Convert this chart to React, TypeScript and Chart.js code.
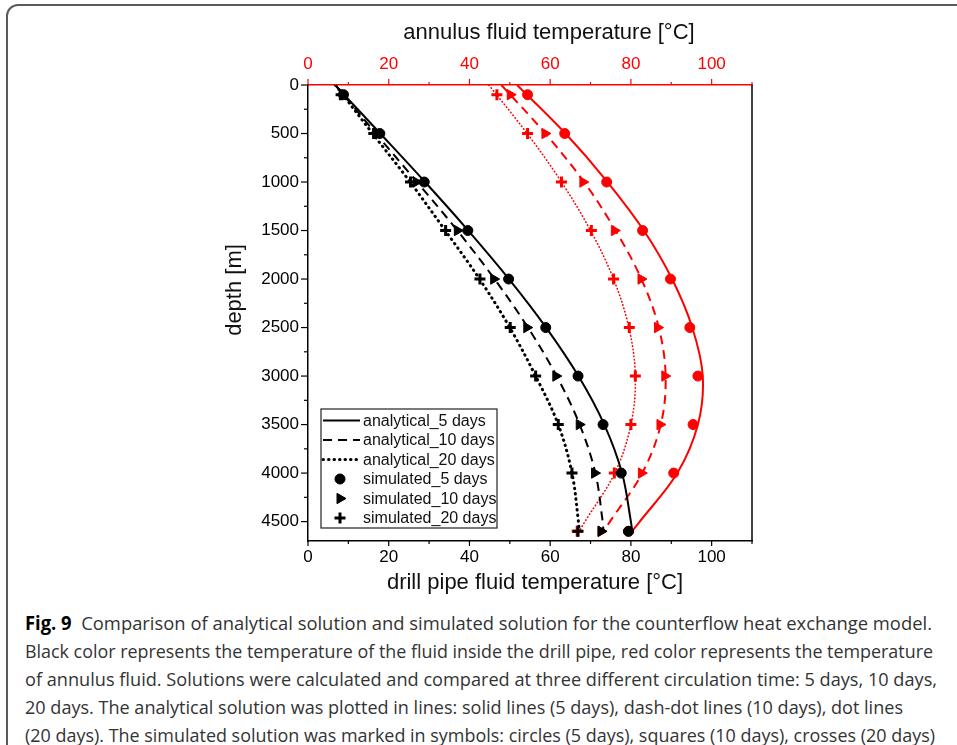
import React, { useEffect, useLayoutEffect, useRef } from "react";
import { Chart, registerables } from "chart.js";
import { drawPoint } from "chart.js/helpers";

Chart.register(...registerables);

// ---------- data ----------
const lineDepths = [0, 500, 1000, 1500, 2000, 2500, 3000, 3500, 4000, 4500, 4600];
const simDepths = [100, 500, 1000, 1500, 2000, 2500, 3000, 3500, 4000, 4600];

// analytical, drill pipe (black)
const pipeLine5 = [6.7, 17.9, 29.0, 39.7, 49.8, 59.0, 67.0, 73.4, 77.8, 80.0, 80.3];
const pipeLine10 = [6.8, 16.8, 27.0, 37.0, 46.2, 54.5, 61.6, 67.3, 71.2, 73.0, 73.2];
const pipeLine20 = [6.8, 16.0, 25.3, 34.0, 42.5, 50.0, 56.4, 62.0, 65.4, 67.0, 67.2];
// analytical, annulus (red)
const annLine5 = [51.8, 63.8, 74.2, 83.2, 90.2, 95.2, 97.8, 96.6, 91.5, 82.2, 80.3];
const annLine10 = [47.9, 58.8, 68.4, 76.2, 82.6, 86.9, 88.6, 87.4, 82.8, 74.8, 73.2];
const annLine20 = [44.8, 54.3, 62.8, 70.0, 75.7, 79.5, 81.1, 80.0, 76.0, 68.6, 67.2];

// simulated, drill pipe (black)
const pipeSim5 = [8.8, 17.8, 28.8, 39.6, 49.7, 58.9, 66.9, 73.1, 77.6, 79.4];
const pipeSim10 = [8.5, 16.8, 26.8, 37.0, 46.0, 54.2, 61.4, 67.2, 71.0, 72.6];
const pipeSim20 = [8.2, 16.3, 25.4, 34.1, 42.6, 50.1, 56.4, 62.0, 65.4, 66.9];
// simulated, annulus (red)
const annSim5 = [54.4, 63.6, 74.0, 82.9, 89.8, 94.6, 96.6, 95.4, 90.6, 79.4];
const annSim10 = [50.1, 58.7, 68.1, 75.9, 82.5, 86.6, 88.4, 87.2, 82.6, 72.6];
const annSim20 = [46.8, 54.4, 62.8, 70.2, 75.7, 79.6, 81.1, 80.0, 75.9, 66.7];

// tick labels
const depthTicks = [0, 500, 1000, 1500, 2000, 2500, 3000, 3500, 4000, 4500];
const tempTicks = [0, 20, 40, 60, 80, 100];

const titleTop = "annulus fluid temperature [°C]";
const titleBottom = "drill pipe fluid temperature [°C]";
const titleLeft = "depth [m]";

const legendLabels = [
  "analytical_5 days",
  "analytical_10 days",
  "analytical_20 days",
  "simulated_5 days",
  "simulated_10 days",
  "simulated_20 days",
];

const captionLines = [
  "Comparison of analytical solution and simulated solution for the counterflow heat exchange model.",
  "Black color represents the temperature of the fluid inside the drill pipe, red color represents the temperature",
  "of annulus fluid. Solutions were calculated and compared at three different circulation time: 5 days, 10 days,",
  "20 days. The analytical solution was plotted in lines: solid lines (5 days), dash-dot lines (10 days), dot lines",
  "(20 days). The simulated solution was marked in symbols: circles (5 days), squares (10 days), crosses (20 days)",
];
const captionWidths = [907, 908, 912, 878, 910];

const X_MIN = 0;
const X_MAX = 110;
const Y_MIN = 0;
const Y_MAX = 4700;

const pairs = (vals: number[], depths: number[]) =>
  vals.map((v, i) => ({ x: v, y: depths[i] }));

const BLACK = "#000000";
const RED = "#ff0000";
const FONT = "'Liberation Sans', Arial, sans-serif";

const lineDs = (label: string, vals: number[], color: string, axis: string, dash: number[], width: number, cap: string) => ({
  label,
  data: pairs(vals, lineDepths),
  xAxisID: axis,
  showLine: true,
  borderColor: color,
  backgroundColor: color,
  borderWidth: width,
  borderDash: dash,
  borderCapStyle: cap,
  pointRadius: 0,
  tension: 0.35,
  fill: false,
});

const simDs = (label: string, vals: number[], color: string, axis: string, style: string, radius: number, bw: number, rot: number) => ({
  label,
  data: pairs(vals, simDepths),
  xAxisID: axis,
  showLine: false,
  borderColor: color,
  backgroundColor: color,
  pointStyle: style,
  pointRadius: radius,
  pointBorderWidth: bw,
  pointRotation: rot,
});

const setTicks = (vals: number[]) => (s: any) => {
  s.ticks = vals.map((v) => ({ value: v }));
};

const customPlugin = {
  id: "custom",
  afterDraw(chart: any) {
    const { ctx, chartArea, scales } = chart;
    const { left, right, top, bottom } = chartArea;
    ctx.save();
    // right frame line
    ctx.strokeStyle = BLACK;
    ctx.lineWidth = 1.5;
    ctx.beginPath();
    ctx.moveTo(right, top);
    ctx.lineTo(right, bottom);
    ctx.stroke();
    // ticks (major + minor)
    ctx.lineWidth = 1.2;
    const ln = (x1: number, y1: number, x2: number, y2: number) => {
      ctx.beginPath();
      ctx.moveTo(x1, y1);
      ctx.lineTo(x2, y2);
      ctx.stroke();
    };
    ctx.strokeStyle = BLACK;
    for (let v = Y_MIN; v <= Y_MAX; v += 250) {
      const y = scales.y.getPixelForValue(v);
      const len = v % 500 === 0 ? 7 : 4;
      ln(left - len, y, left, y);
    }
    for (let v = X_MIN; v <= X_MAX; v += 10) {
      const x = scales.x.getPixelForValue(v);
      const len = v % 20 === 0 ? 5 : 3;
      ln(x, bottom, x, bottom + len);
    }
    ctx.strokeStyle = RED;
    for (let v = X_MIN; v <= X_MAX; v += 10) {
      const x = scales.x2.getPixelForValue(v);
      const len = v % 20 === 0 ? 6 : 3;
      ln(x, top - len, x, top);
    }

    // axis titles
    ctx.fillStyle = "#111";
    ctx.font = `22px ${FONT}`;
    ctx.textAlign = "center";
    ctx.textBaseline = "middle";
    ctx.fillText(titleTop, left + 241, top - 52);
    ctx.fillText(titleBottom, left + 227, bottom + 42);
    ctx.save();
    ctx.translate(left - 73, top + 205);
    ctx.rotate(-Math.PI / 2);
    ctx.fillText(titleLeft, 0, 0);
    ctx.restore();

    // legend box
    const bx = left + 13;
    const by = top + 324;
    const bw = 176;
    const bh = 119;
    ctx.fillStyle = "#ffffff";
    ctx.fillRect(bx, by, bw, bh);
    ctx.strokeStyle = "#222";
    ctx.lineWidth = 1.2;
    ctx.setLineDash([]);
    ctx.strokeRect(bx, by, bw, bh);
    const dsets = chart.data.datasets;
    ctx.font = `16px ${FONT}`;
    ctx.textBaseline = "middle";
    ctx.textAlign = "left";
    for (let i = 0; i < 6; i++) {
      const ds: any = dsets[i];
      const cy = by + 11.5 + i * 19.5;
      if (i < 3) {
        ctx.save();
        ctx.strokeStyle = ds.borderColor;
        ctx.lineWidth = ds.borderWidth;
        ctx.lineCap = ds.borderCapStyle;
        ctx.setLineDash(ds.borderDash);
        ctx.beginPath();
        ctx.moveTo(bx + 2, cy);
        ctx.lineTo(bx + 39, cy);
        ctx.stroke();
        ctx.restore();
      } else {
        ctx.save();
        ctx.setLineDash([]);
        ctx.fillStyle = ds.backgroundColor;
        ctx.strokeStyle = ds.borderColor;
        ctx.lineWidth = ds.pointBorderWidth;
        drawPoint(ctx, { pointStyle: ds.pointStyle, radius: ds.pointRadius, rotation: ds.pointRotation, borderWidth: ds.pointBorderWidth }, bx + 19, cy);
        ctx.restore();
      }
      ctx.fillStyle = "#111";
      ctx.fillText(legendLabels[i], bx + 42, cy + 1);
    }
    ctx.restore();
  },
};

function Caption() {
  const refs = useRef<(HTMLSpanElement | null)[]>([]);
  useLayoutEffect(() => {
    refs.current.forEach((el, i) => {
      if (!el) return;
      el.style.transform = "none";
      const w = el.getBoundingClientRect().width;
      if (w > 0) el.style.transform = `scaleX(${captionWidths[i] / w})`;
    });
  }, []);
  return (
    <div style={{ position: "absolute", left: 25, top: 609, fontFamily: "'Open Sans', 'Noto Sans', sans-serif", fontSize: 19, lineHeight: "28px", color: "#333" }}>
      {captionLines.map((t, i) => (
        <div key={i} style={{ whiteSpace: "nowrap", height: 28 }}>
          <span
            ref={(el) => {
              refs.current[i] = el;
            }}
            style={{ display: "inline-block", transformOrigin: "left center", whiteSpace: "pre" }}
          >
            {i === 0 ? (
              <>
                <b style={{ color: "#000" }}>Fig. 9</b>
                {"  " + t}
              </>
            ) : (
              t
            )}
          </span>
        </div>
      ))}
    </div>
  );
}

export default function App() {
  const canvasRef = useRef<HTMLCanvasElement | null>(null);

  useEffect(() => {
    const canvas = canvasRef.current;
    if (!canvas) return;
    Chart.defaults.font.family = FONT;
    const chart = new Chart(canvas, {
      type: "scatter",
      data: {
        datasets: [
          lineDs("analytical_5 days", pipeLine5, BLACK, "x", [], 2, "butt"),
          lineDs("analytical_10 days", pipeLine10, BLACK, "x", [9, 6], 2, "butt"),
          lineDs("analytical_20 days", pipeLine20, BLACK, "x", [0.5, 5], 3, "round"),
          simDs("simulated_5 days", pipeSim5, BLACK, "x", "circle", 5, 1, 0),
          simDs("simulated_10 days", pipeSim10, BLACK, "x", "triangle", 6, 1, 90),
          simDs("simulated_20 days", pipeSim20, BLACK, "x", "cross", 5.5, 3, 0),
          lineDs("annulus analytical_5 days", annLine5, RED, "x2", [], 2, "butt"),
          lineDs("annulus analytical_10 days", annLine10, RED, "x2", [9, 6], 2, "butt"),
          lineDs("annulus analytical_20 days", annLine20, RED, "x2", [0.5, 3], 1.6, "round"),
          simDs("annulus simulated_5 days", annSim5, RED, "x2", "circle", 5, 1, 0),
          simDs("annulus simulated_10 days", annSim10, RED, "x2", "triangle", 6, 1, 90),
          simDs("annulus simulated_20 days", annSim20, RED, "x2", "cross", 5.5, 3, 0),
        ] as any,
      },
      options: {
        animation: false,
        responsive: false,
        devicePixelRatio: 1,
        layout: { padding: { left: 200, right: 205, top: 10, bottom: 0 } },
        plugins: { legend: { display: false }, tooltip: { enabled: false } },
        scales: {
          x: {
            type: "linear",
            position: "bottom",
            min: X_MIN,
            max: X_MAX,
            afterBuildTicks: setTicks(tempTicks),
            grid: { display: false, drawTicks: false },
            border: { display: true, color: BLACK, width: 1.5 },
            ticks: { color: BLACK, font: { size: 17 }, padding: 6, maxRotation: 0, autoSkip: false, callback: (v: any) => String(v) },
            title: { display: false },
            afterFit: (s: any) => {
              s.height = 59;
            },
          },
          x2: {
            type: "linear",
            position: "top",
            min: X_MIN,
            max: X_MAX,
            afterBuildTicks: setTicks(tempTicks),
            grid: { display: false, drawTicks: false },
            border: { display: true, color: RED, width: 1.5 },
            ticks: { color: RED, font: { size: 17 }, padding: 10, maxRotation: 0, autoSkip: false, callback: (v: any) => String(v) },
            title: { display: false },
            afterFit: (s: any) => {
              s.height = 75;
            },
          },
          y: {
            type: "linear",
            position: "left",
            min: Y_MIN,
            max: Y_MAX,
            reverse: true,
            afterBuildTicks: setTicks(depthTicks),
            grid: { display: false, drawTicks: false },
            border: { display: true, color: BLACK, width: 1.5 },
            ticks: { color: BLACK, font: { size: 17 }, padding: 9, autoSkip: false, callback: (v: any) => String(v) },
            title: { display: false },
            afterFit: (s: any) => {
              s.width = 108;
            },
          },
        },
      } as any,
      plugins: [customPlugin],
    });
    return () => chart.destroy();
  }, []);

  return (
    <div style={{ position: "fixed", left: 0, top: 0, width: 957, height: 745, overflow: "hidden", background: "#fff" }}>
      <div
        style={{
          position: "absolute",
          left: 6,
          top: 4,
          width: 1100,
          height: 900,
          border: "2px solid #5a5a5a",
          borderRadius: 12,
          boxSizing: "border-box",
        }}
      />
      <canvas ref={canvasRef} width={957} height={600} style={{ position: "absolute", left: 0, top: 0, width: 957, height: 600 }} />
      <Caption />
    </div>
  );
}
